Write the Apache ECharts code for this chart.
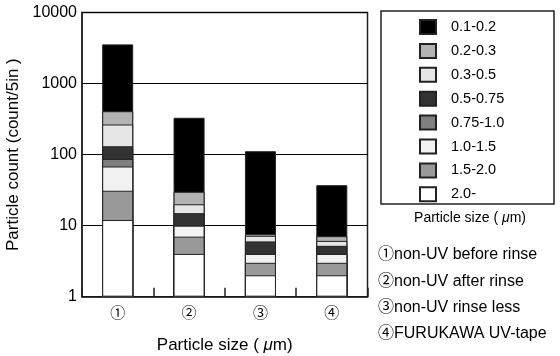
<!DOCTYPE html>
<html>
<head>
<meta charset="utf-8">
<script src="https://cdn.jsdelivr.net/npm/echarts@6/dist/echarts.min.js"></script>
<style>
html, body { margin: 0; padding: 0; background: #fff; }
#chart { width: 560px; height: 356px; }
</style>
</head>
<body>
<div id="chart"></div>
<script>
var samples = ["①", "②", "③", "④"];
var notes = ["①non-UV before rinse", "②non-UV after rinse", "③non-UV rinse less", "④FURUKAWA UV-tape"];
var yTicks = [1, 10, 100, 1000, 10000];

// particle count per size bin, one value per sample (①..④)
var bin01_02 = [3150, 300, 104, 30];
var bin02_03 = [143, 10, 0.4, 1];
var bin03_05 = [134, 5, 1.2, 0.9];
var bin05_075 = [44, 5, 2, 1.2];
var bin075_10 = [19, 0, 0, 0];
var bin10_15 = [37, 3, 1, 1];
var bin15_20 = [19, 3, 1, 1];
var bin20 = [12, 4, 2, 2];

var binNames = ["0.1-0.2", "0.2-0.3", "0.3-0.5", "0.5-0.75", "0.75-1.0", "1.0-1.5", "1.5-2.0", "2.0-"];
var binData = [bin01_02, bin02_03, bin03_05, bin05_075, bin075_10, bin10_15, bin15_20, bin20];
var binColors = ["#000000", "#b3b3b3", "#e6e6e6", "#333333", "#808080", "#f2f2f2", "#999999", "#ffffff"];

var FONT = "'Liberation Sans', Arial, 'Noto Sans CJK JP', sans-serif";

// stacked totals: bin i sits on top of all the bins listed after it
function cumulative(i) {
    return samples.map(function (s, k) {
        var sum = 0;
        for (var j = i; j < binData.length; j++) sum += binData[j][k];
        return sum;
    });
}

// largest total first so the smaller bars are painted over it
var series = binNames.map(function (name, i) {
    return {
        name: name,
        type: "bar",
        barWidth: 31,
        barGap: "-100%",
        data: cumulative(i),
        itemStyle: { color: binColors[i], borderColor: "#222", borderWidth: 1 },
        emphasis: { disabled: true },
        animation: false
    };
});

var chart = echarts.init(document.getElementById("chart"));
chart.setOption({
    animation: false,
    textStyle: { fontFamily: FONT, color: "#000" },
    grid: {
        left: 82, right: 192.5, top: 12.5, bottom: 59.3,
        outerBoundsMode: "none",
        show: true, borderColor: "#222", borderWidth: 1.5
    },
    legend: {
        orient: "vertical",
        left: 414,
        top: 14,
        icon: "rect",
        itemWidth: 16,
        itemHeight: 14,
        itemGap: 7.9,
        data: binNames,
        textStyle: { fontFamily: FONT, fontSize: 14.5, color: "#000", padding: [0, 0, 0, 10] }
    },
    xAxis: {
        type: "category",
        data: samples,
        name: "Particle size ( {i|μ}m)",
        nameLocation: "middle",
        nameGap: 40,
        nameTextStyle: {
            fontFamily: FONT, fontSize: 17, color: "#000",
            rich: { i: { fontFamily: FONT, fontSize: 17, fontStyle: "italic", color: "#000" } }
        },
        axisLine: { lineStyle: { color: "#222", width: 1.5 } },
        axisTick: { show: true, inside: true, length: 9, interval: 0, lineStyle: { color: "#222", width: 1.5 } },
        axisLabel: { fontFamily: "'Noto Sans CJK JP', sans-serif", fontSize: 15, color: "#000", margin: 8 }
    },
    yAxis: {
        type: "log",
        logBase: 10,
        min: yTicks[0],
        max: yTicks[yTicks.length - 1],
        name: "Particle count (count/5in )",
        nameLocation: "middle",
        nameGap: 48,
        nameTextStyle: { fontFamily: FONT, fontSize: 17, color: "#000" },
        axisLine: { show: true, lineStyle: { color: "#222", width: 1.5 } },
        axisTick: { show: false },
        splitLine: { show: true, lineStyle: { color: "#000", width: 1 } },
        axisLabel: {
            fontFamily: FONT, fontSize: 16, color: "#000", margin: 5,
            formatter: function (v) { return String(Math.round(v)); }
        }
    },
    graphic: [
        {
            type: "rect",
            shape: { x: 381, y: 11, width: 173, height: 193 },
            style: { fill: "none", stroke: "#222", lineWidth: 1.5 }
        },
        {
            type: "text",
            x: 470, y: 218,
            style: {
                text: "Particle size ( {i|μ}m)",
                font: "14px " + FONT,
                fill: "#000",
                align: "center",
                verticalAlign: "middle",
                rich: { i: { fontFamily: FONT, fontSize: 14, fontStyle: "italic", fill: "#000" } }
            }
        }
    ].concat(notes.map(function (t, i) {
        return {
            type: "text",
            x: 378, y: 255 + i * 26.1,
            style: { text: t, font: "16px " + FONT, fill: "#000", align: "left", verticalAlign: "middle" }
        };
    })),
    series: series
});
</script>
</body>
</html>
